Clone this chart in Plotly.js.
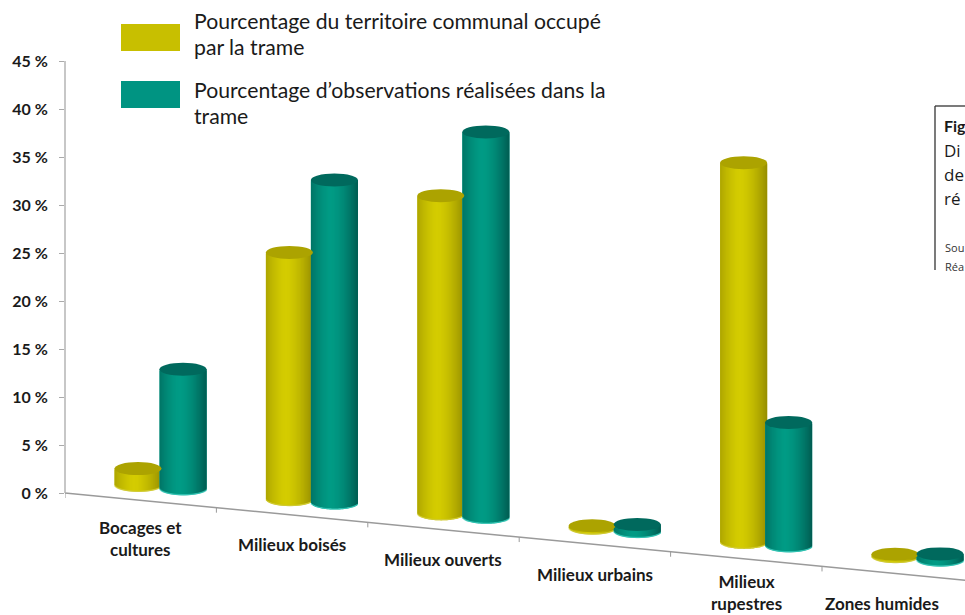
<!DOCTYPE html>
<html><head><meta charset="utf-8">
<script src="https://cdn.plot.ly/plotly-3.0.1.min.js"></script>
<style>html,body{margin:0;padding:0;background:#fff;overflow:hidden}#c{width:965px;height:615px}</style>
</head><body><div id="c"></div>
<script>
const categories = ["Bocages et<br>cultures","Milieux boisés","Milieux ouverts","Milieux urbains","Milieux<br>rupestres","Zones humides"];
const territoire = [1.6, 25.6, 33.0, 0.1, 39.4, 0.1];
const observations = [12.3, 33.5, 40.0, 0.6, 12.7, 0.5];
const yTicks = [0,5,10,15,20,25,30,35,40,45];
const legendLines = ["Pourcentage du territoire communal occupé","par la trame","Pourcentage d’observations réalisées dans la","trame"];
const captionLines = ["<b>Fig</b>","Di","de","ré"];
const sourceLines = ["Sou","Réa"];

// Scale: one category is 151.4 px wide, 1 % is 9.6 px tall
const W=965,H=615,ML=65,PX=151.4,PY=9.6,X0=160.5,Y0=493;
const xr=[(ML-X0)/PX,(W-X0)/PX], yr=[-(H-Y0)/PY,Y0/PY];
const barW=47/PX, off=22.5/PX, capH=6.5/PY, step=14.25/PY, slices=47;
const series=[
 {vals:territoire,sign:-1,base0:0.94,lit:[212,204,0],dark:[150,142,0],cap:"#aca300",rim:"#d0ca30",name:"Territoire"},
 {vals:observations,sign:1,base0:0.58,lit:[0,155,133],dark:[0,92,82],cap:"#00695d",rim:"#30c0b0",name:"Observations"}
];
function shade(s,u){ // u in [-1,1]; highlight a little left of the centre
  const d=Math.min(1,Math.abs(u+0.15)/1.15), t=Math.pow(d,1.6);
  return `rgb(${s.lit.map((c,i)=>Math.round(c+(s.dark[i]-c)*t)).join(",")})`;
}
const traces=[], shapes=[];
series.forEach(s=>{
  const rx=[],rb=[],ry=[],rw=[], x=[],b=[],y=[],w=[],col=[];
  s.vals.forEach((v,i)=>{
    const cx=i+s.sign*off, base=s.base0-step*i, sw=barW/slices;
    for(let k=0;k<slices;k++){
      const u=(k+0.5)/slices*2-1, arc=capH*Math.sqrt(1-u*u);
      // slices overlap by a pixel so that rounding leaves no seams
      const wide=k<slices-1?sw+1/PX:sw, left=cx-barW/2+k*sw;
      x.push(left+wide/2); w.push(wide); b.push(base-arc); y.push(v+arc); col.push(shade(s,u));
      rx.push(left+wide/2); rw.push(wide); rb.push(base-arc-1.4/PY); ry.push(v+arc);
    }
    shapes.push({type:"circle",xref:"x",yref:"y",x0:cx-barW/2,x1:cx+barW/2,y0:base+v-capH,y1:base+v+capH,fillcolor:s.cap,line:{width:0},layer:"above"});
  });
  traces.push({type:"bar",x:rx,y:ry,base:rb,width:rw,marker:{color:s.rim,line:{width:0}},hoverinfo:"skip",showlegend:false});
  traces.push({type:"bar",x:x,y:y,base:b,width:w,marker:{color:col,line:{width:0}},name:s.name,hoverinfo:"skip",showlegend:false});
});
// Slanted floor line and its tick marks
const slopeY=x=>-0.097*(x-xr[0])*PX/PY;
const tx=[],ty=[];
for(let k=0;k<=5;k++){const q=xr[0]+k;tx.push(q,q,null);ty.push(slopeY(q),slopeY(q)-5/PY,null);}
traces.push({type:"scatter",mode:"lines",x:[xr[0],xr[1]],y:[slopeY(xr[0]),slopeY(xr[1])],line:{color:"#9a9a9a",width:1.5},hoverinfo:"skip",showlegend:false});
traces.push({type:"scatter",mode:"lines",x:tx,y:ty,line:{color:"#9a9a9a",width:1},hoverinfo:"skip",showlegend:false});
shapes.push({type:"line",xref:"paper",yref:"y",x0:0,x1:0,y0:0,y1:45,line:{color:"#b4b4b4",width:1.5}});
// pixel helpers for page furniture
const pxX=p=>(p-ML)/(W-ML), pxY=p=>1-p/H;
const rect=(a,b,c,d,col)=>({type:"rect",xref:"paper",yref:"paper",x0:pxX(a),x1:pxX(b),y0:pxY(d),y1:pxY(c),fillcolor:col,line:{width:0}});
shapes.push(rect(121,180,24,51,"#c8bf00"),rect(121,180,81,108,"#009482"));
shapes.push({type:"line",xref:"paper",yref:"paper",x0:pxX(935),x1:pxX(935),y0:pxY(106),y1:pxY(270),line:{color:"#333",width:1.3}});
shapes.push({type:"line",xref:"paper",yref:"paper",x0:pxX(935),x1:1,y0:pxY(106),y1:pxY(106),line:{color:"#333",width:1.3}});
const ann=[];
categories.forEach((c,i)=>{
  const dx=i===5?-36:-20, dy=i===0?36:(i===4?31:28);
  ann.push({xref:"x",yref:"y",x:i+dx/PX,y:slopeY(i)-dy/PY,text:c,showarrow:false,xanchor:"center",yanchor:"middle",
    font:{family:"Lato",size:17,color:"#1a1a1a",weight:700}});
});
legendLines.forEach((t,i)=>ann.push({xref:"paper",yref:"paper",x:pxX(194),y:pxY([21,47,90,116][i]),text:t,showarrow:false,xanchor:"left",yanchor:"middle",align:"left",xshift:-2,
  font:{family:"Lato",size:21.2,color:"#1a1a1a"}}));
captionLines.forEach((t,i)=>ann.push({xref:"paper",yref:"paper",x:pxX(944),y:pxY([125,150,174,199][i]),text:t,showarrow:false,xanchor:"left",yanchor:"middle",xshift:-2,
  font:{family:i===0?"Lato":"Open Sans",size:i===0?16:17,color:"#1a1a1a"}}));
sourceLines.forEach((t,i)=>ann.push({xref:"paper",yref:"paper",x:pxX(945),y:pxY([247,266][i]),text:t,showarrow:false,xanchor:"left",yanchor:"middle",xshift:-2,
  font:{family:"Open Sans",size:11,color:"#333"}}));
Plotly.newPlot("c",traces,{
  width:W,height:H,margin:{l:ML,r:0,t:0,b:0,pad:0},paper_bgcolor:"#fff",plot_bgcolor:"#fff",barmode:"overlay",showlegend:false,
  xaxis:{range:xr,visible:false,fixedrange:true},
  yaxis:{range:yr,tickmode:"array",tickvals:yTicks,ticktext:yTicks.map(v=>v+" %"),ticks:"outside",ticklen:5,tickwidth:1,tickcolor:"#aaa",showgrid:false,zeroline:false,showline:false,ticklabelstandoff:8,
    tickfont:{family:"Lato",size:16,color:"#1a1a1a",weight:700},fixedrange:true},
  shapes:shapes,annotations:ann
},{displayModeBar:false,staticPlot:true});
</script></body></html>
